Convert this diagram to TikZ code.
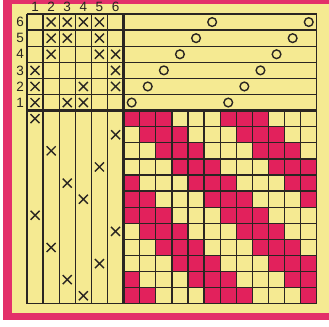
\documentclass[tikz,border=0pt]{standalone}
\usepackage{fontspec}
\setmainfont{Liberation Sans}
\definecolor{paper}{HTML}{F5EA92}
\definecolor{rim}{HTML}{E3306A}
\definecolor{weft}{HTML}{E2215C}
\definecolor{ink}{HTML}{2A2622}
\tikzset{
  grid line/.style={ink, line width=1.3pt},
  split line/.style={ink, line width=2.3pt},
  mark x/.style={ink, line width=1.4pt},
  mark o/.style={ink, line width=1.4pt},
  num/.style={font=\fontsize{13.5}{13.5}\selectfont, inner sep=0pt, text=ink}
}
\begin{document}
\begin{tikzpicture}[x=16.1pt, y=-16.1pt]
\useasboundingbox (-1.677,-0.870) rectangle (18.758,19.379);
\fill[white] (-1.677,-0.870) rectangle (18.758,19.379);
\fill[rim] (-1.49,-0.870) rectangle (18.758,19.01);
\fill[paper] (-0.93,-0.62) rectangle (18.758,18.57);
\foreach \r/\cols in {1/{1,2,3,7,8,9}, 2/{2,3,4,8,9,10}, 3/{3,4,5,9,10,11},
    4/{4,5,6,10,11,12}, 5/{1,5,6,7,11,12}, 6/{1,2,6,7,8,12}}
  \foreach \c in \cols {
    \fill[weft] (5+\c,5+\r) rectangle ++(1,1);
    \fill[weft] (5+\c,11+\r) rectangle ++(1,1);
  }
\foreach \i in {0,...,5,18} \draw[grid line] (\i,0) -- (\i,18);
\foreach \i in {7,...,17} \draw[grid line] (\i,6) -- (\i,18);
\foreach \i in {0,...,5,18} \draw[grid line] (0,\i) -- (18,\i);
\foreach \i in {7,...,17} \draw[grid line] (6,\i) -- (18,\i);
\draw[split line] (6,0) -- (6,18);
\draw[split line] (0,6) -- (18,6);
\foreach \k in {1,...,6} {
  \node[num] (top\k) at (\k-0.5,-0.42) {\k};
  \node[num] (side\k) at (-0.43,6.5-\k) {\k};
}
\foreach \j in {1,...,12} {
  \pgfmathtruncatemacro\s{mod(\j-1,6)+1}
  \draw[mark o] (\j+5.5,6.5-\s) circle (0.27);
}
\foreach \c/\k in {2/6,3/6,4/6,5/6, 2/5,3/5,5/5, 2/4,5/4,6/4, 1/3,6/3,
    1/2,4/2,6/2, 1/1,3/1,4/1}
  \draw[mark x, shift={(\c-0.5,6.5-\k)}] (-.28,-.28) -- (.28,.28) (-.28,.28) -- (.28,-.28);
\foreach \r/\c in {1/1,2/6,3/2,4/5,5/3,6/4,7/1,8/6,9/2,10/5,11/3,12/4}
  \draw[mark x, shift={(\c-0.5,5.5+\r)}] (-.28,-.28) -- (.28,.28) (-.28,.28) -- (.28,-.28);
\end{tikzpicture}
\end{document}
